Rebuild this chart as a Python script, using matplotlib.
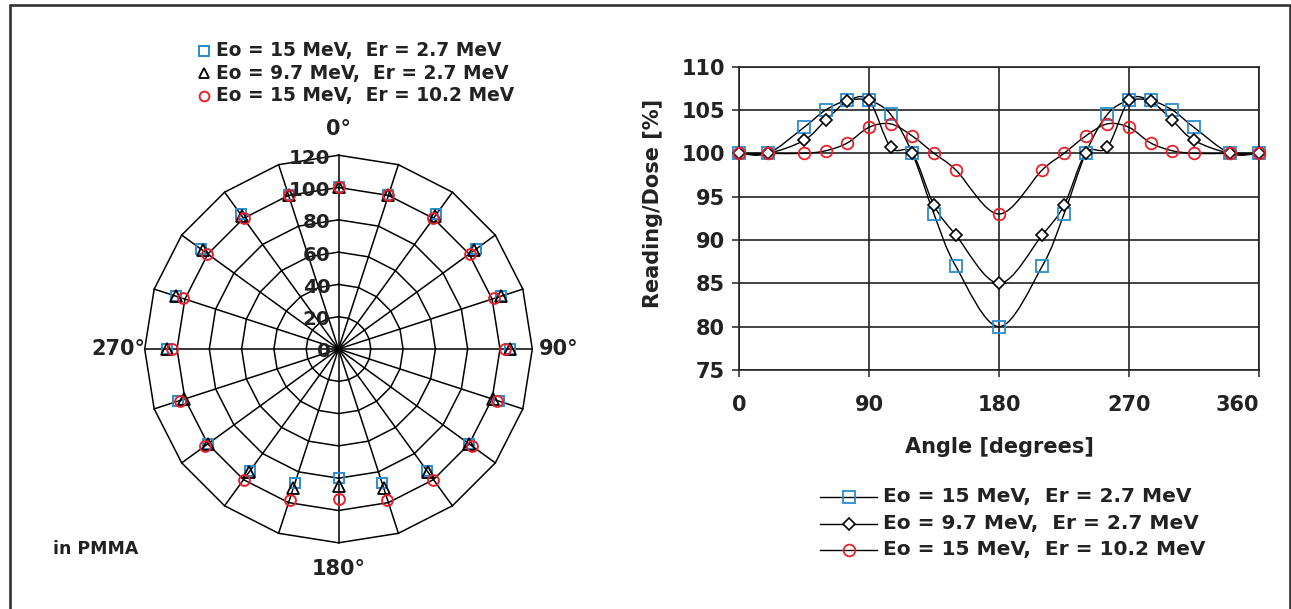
import numpy as np
import matplotlib
matplotlib.use("Agg")
import matplotlib.pyplot as plt
from matplotlib.path import Path
from matplotlib.patches import PathPatch
from matplotlib.lines import Line2D

# ---------------- data ----------------
angles = [0, 20, 45, 60, 75, 90, 105, 120, 135, 150, 180, 210, 225, 240, 255,
          270, 285, 300, 315, 340, 360]
s_15_27 = [100, 100, 103, 105, 106.1, 106.1, 104.5, 100, 93, 87, 80, 87, 93,
           100, 104.5, 106.1, 106.1, 105, 103, 100, 100]
s_97_27 = [100, 100, 101.5, 103.8, 106, 106.1, 100.7, 100, 94, 90.6, 85, 90.6,
           94, 100, 100.7, 106.1, 106, 103.8, 101.5, 100, 100]
s_15_102 = [100, 100, 100, 100.3, 101.2, 103, 103.4, 102, 100, 98.1, 93, 98.1,
            100, 102, 103.4, 103, 101.2, 100.3, 100, 100, 100]
series_labels = ["Eo = 15 MeV,  Er = 2.7 MeV",
                 "Eo = 9.7 MeV,  Er = 2.7 MeV",
                 "Eo = 15 MeV,  Er = 10.2 MeV"]
radar_ticks = [0, 20, 40, 60, 80, 100, 120]
radar_cat_labels = {0: "0°", 5: "90°", 10: "180°", 15: "270°"}
x_ticks = [0, 90, 180, 270, 360]
y_ticks = [75, 80, 85, 90, 95, 100, 105, 110]

BLUE = "#2a8dd0"
RED = "#e8212b"
TXT = "#222222"

plt.rcParams["font.family"] = ["DejaVu Sans"]
plt.rcParams["font.weight"] = "bold"
plt.rcParams["text.color"] = TXT

FW, FH = 1291, 609
fig = plt.figure(figsize=(FW / 100, FH / 100), dpi=100)


def fx(px):
    return px / FW


def fy(py):
    return 1 - py / FH


# figure frame (left, top, right)
fig.add_artist(Line2D([fx(9.5), fx(9.5), fx(1289.5), fx(1289.5)],
                      [-0.02, fy(5), fy(5), -0.02], transform=fig.transFigure,
                      color="#333333", lw=1.9, solid_joinstyle="miter"))

# ---------------- radar (left) ----------------
cx, cy, R = 338.5, 349.0, 193.8
scale = R / 120.0
half = 140 * scale
axp = fig.add_axes([fx(cx - half), fy(cy + half), 2 * half / FW, 2 * half / FH])
axp.set_xlim(-140, 140)
axp.set_ylim(-140, 140)
axp.axis("off")

n_cat = 20
theta = np.deg2rad(np.arange(n_cat) * 360.0 / n_cat)
for r in radar_ticks[1:]:
    xs = np.append(r * np.sin(theta), 0)
    ys = np.append(r * np.cos(theta), r)
    axp.plot(xs, ys, color="black", lw=1.1, zorder=1)
for t in theta:
    axp.plot([0, 120 * np.sin(t)], [0, 120 * np.cos(t)], color="black",
             lw=1.1, zorder=1)

radar_styles = [
    dict(marker="s", ms=7.8, mfc="none", mec=BLUE, mew=1.4),
    dict(marker="^", ms=8.2, mfc="none", mec="black", mew=1.3),
    dict(marker="o", ms=7.8, mfc="none", mec=RED, mew=1.4),
]
for vals, st in zip([s_15_27, s_97_27, s_15_102], radar_styles):
    v = np.array(vals[:n_cat])
    axp.plot(v * np.sin(theta), v * np.cos(theta), ls="none", zorder=3, **st)

for t in radar_ticks:
    axp.text(-5.0, t - 1.8, str(t), ha="right", va="center", fontsize=14.3,
             zorder=4)
for i, lab in radar_cat_labels.items():
    t = theta[i]
    rr = 136.5
    axp.text(rr * np.sin(t), rr * np.cos(t), lab, ha="center", va="center",
             fontsize=15, clip_on=False)

# radar legend
for k, (lab, st) in enumerate(zip(series_labels, radar_styles)):
    y = [50.6, 73.3, 95.8][k]
    fig.add_artist(Line2D([fx(204)], [fy(y)], transform=fig.transFigure,
                          ls="none", **{**st, "ms": st["ms"] * 0.9}))
    fig.text(fx(216.5), fy(y), lab, ha="left", va="center", fontsize=13.4)

fig.text(fx(53), fy(549), "in PMMA", ha="left", va="center", fontsize=12.5)

# ---------------- cartesian (right) ----------------
x0, x1, y0, y1 = 739, 1259, 66.7, 370
ax = fig.add_axes([fx(x0), fy(y1), (x1 - x0) / FW, (y1 - y0) / FH])
ax.set_xlim(0, 360)
ax.set_ylim(75, 110)
ax.set_xticks(x_ticks)
ax.set_yticks(y_ticks)
ax.set_xticklabels([str(v) for v in x_ticks])
ax.set_yticklabels([str(v) for v in y_ticks])
ax.grid(True, color="#222222", lw=1.2)
ax.set_axisbelow(True)
for sp in ax.spines.values():
    sp.set_color("#222222")
    sp.set_linewidth(1.2)
ax.tick_params(axis="y", direction="out", length=5, width=1.1, pad=5,
               labelsize=15, colors="#222222", labelcolor=TXT)
ax.tick_params(axis="x", direction="out", length=5, width=1.1, pad=13,
               labelsize=15, colors="#222222", labelcolor=TXT)
ax.get_xticklabels()[-1].set_ha("right")


def smooth_path(xs, ys):
    pts = np.column_stack([xs, ys]).astype(float)
    n = len(pts)
    verts = [pts[0]]
    codes = [Path.MOVETO]
    for i in range(n - 1):
        p0 = pts[i - 1] if i > 0 else pts[i]
        p1, p2 = pts[i], pts[i + 1]
        p3 = pts[i + 2] if i + 2 < n else pts[i + 1]
        verts += [p1 + (p2 - p0) / 6.0, p2 - (p3 - p1) / 6.0, p2]
        codes += [Path.CURVE4] * 3
    return Path(verts, codes)


cart_styles = [
    dict(marker="s", ms=8.4, mfc="none", mec=BLUE, mew=1.3),
    dict(marker="D", ms=6.0, mfc="white", mec="black", mew=1.2),
    dict(marker="o", ms=8.4, mfc="none", mec=RED, mew=1.3),
]
for vals in [s_15_27, s_97_27, s_15_102]:
    ax.add_patch(PathPatch(smooth_path(angles, vals), fill=False,
                           edgecolor="black", lw=1.0, zorder=3))
for vals, st in zip([s_15_27, s_97_27, s_15_102], cart_styles):
    ax.plot(angles, vals, ls="none", zorder=4, clip_on=False, **st)

fig.text(fx(653), fy(203), "Reading/Dose [%]", rotation=90, ha="center",
         va="center", fontsize=15)
fig.text(fx(999), fy(447), "Angle [degrees]", ha="center", va="center",
         fontsize=15)

# right legend
for k, (lab, st) in enumerate(zip(series_labels, cart_styles)):
    y = [496.7, 523.5, 550.0][k]
    fig.add_artist(Line2D([fx(820), fx(877)], [fy(y), fy(y)],
                          transform=fig.transFigure, color="black", lw=1.0))
    fig.add_artist(Line2D([fx(848.5)], [fy(y)], transform=fig.transFigure,
                          ls="none", **st))
    fig.text(fx(883), fy(y), lab, ha="left", va="center", fontsize=14.5)

fig.savefig("out.png", dpi=100, facecolor="white")
